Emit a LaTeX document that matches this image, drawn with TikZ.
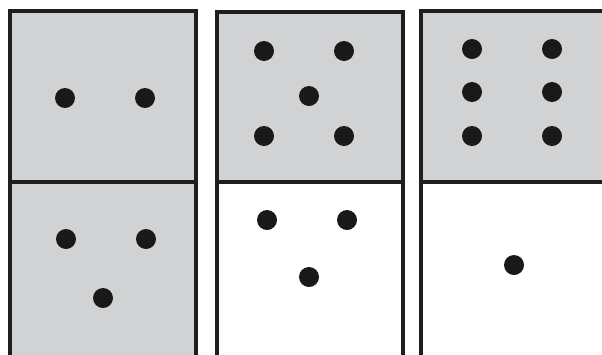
\documentclass[tikz,border=0pt]{standalone}
\definecolor{dgray}{RGB}{209,210,212}
\definecolor{dline}{RGB}{30,30,30}
\tikzset{
  pip/.style={circle,fill=black!90,inner sep=0pt,minimum size=20pt},
  half/.style={draw=dline,line width=4pt},
}
\begin{document}
\begin{tikzpicture}[x=1pt,y=-1pt]
\useasboundingbox (0,0) rectangle (602,354);
\clip (0,0) rectangle (602,354);
\fill[white] (0,0) rectangle (602,354);
% domino 1
\filldraw[half,fill=dgray] (10,11) rectangle (196,182);
\filldraw[half,fill=dgray] (10,182) rectangle (196,370);
% domino 2
\filldraw[half,fill=dgray] (217,12) rectangle (403,182);
\filldraw[half,fill=white] (217,182) rectangle (403,370);
% domino 3
\filldraw[half,fill=dgray] (421,11) rectangle (620,182);
\filldraw[half,fill=white] (421,182) rectangle (620,370);
% pips domino 1
\node[pip] (a1) at (65,98) {};
\node[pip] (a2) at (145,98) {};
\node[pip] (a3) at (66,239) {};
\node[pip] (a4) at (146,239) {};
\node[pip] (a5) at (103,298) {};
% pips domino 2
\node[pip] (b1) at (264,51) {};
\node[pip] (b2) at (344,51) {};
\node[pip] (b3) at (309,96) {};
\node[pip] (b4) at (264,136) {};
\node[pip] (b5) at (344,136) {};
\node[pip] (b6) at (267,220) {};
\node[pip] (b7) at (347,220) {};
\node[pip] (b8) at (309,277) {};
% pips domino 3
\node[pip] (c1) at (472,49) {};
\node[pip] (c2) at (552,49) {};
\node[pip] (c3) at (472,92) {};
\node[pip] (c4) at (552,92) {};
\node[pip] (c5) at (472,136) {};
\node[pip] (c6) at (552,136) {};
\node[pip] (c7) at (514,265) {};
\end{tikzpicture}
\end{document}
